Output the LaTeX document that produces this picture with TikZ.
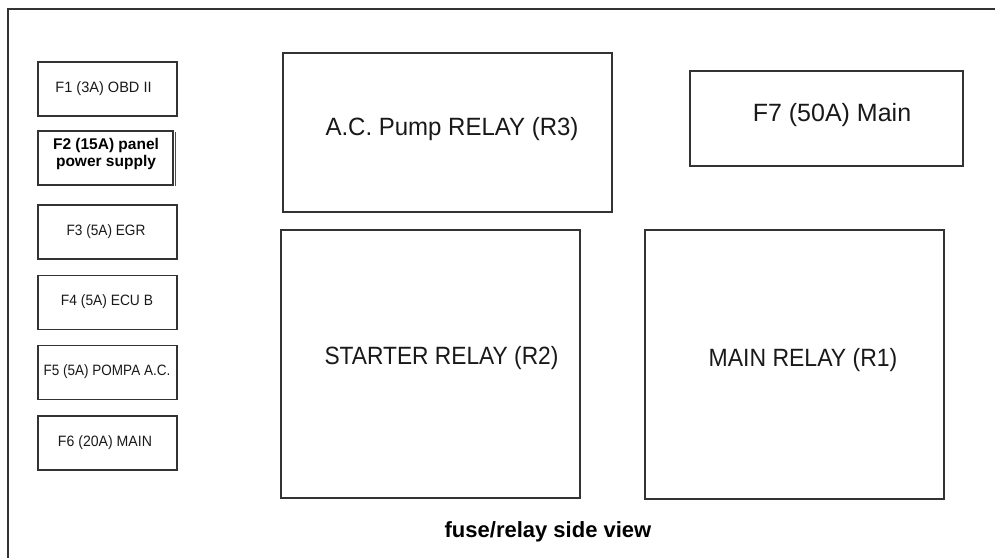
\documentclass[tikz,border=0pt]{standalone}
\usepackage{graphicx}
\usepackage{fontspec}
\setmainfont{Liberation Sans}
\newfontfamily\cad{Liberation Sans}
\newcommand{\cadtext}[2]{\scalebox{#1}[1]{#2}}
\begin{document}
\begin{tikzpicture}[x=1pt,y=-1pt,
  frame/.style={draw=black!80, line width=1.3pt},
  box/.style={draw=black!80, line width=1.3pt, inner sep=0pt, text=black!90},
  fuse/.style={box, minimum width=139pt, minimum height=54pt},
  fusetext/.style={text=black!90, inner sep=0pt, font=\cad\fontsize{15}{17}\selectfont},
  bigtext/.style={text=black!90, inner sep=0pt, font=\cad\fontsize{25}{28}\selectfont},
  boldtext/.style={text=black, inner sep=0pt, align=center, font=\bfseries\fontsize{15.5}{17.5}\selectfont}]
\useasboundingbox (0,0) rectangle (995,558);
\draw[frame] (995,9) -- (8,9) -- (8,558);

% fuses
\node[fuse] (f1) at (107.5,89) {};
\node[fusetext] (t1) at (103.5,88.5) {\cadtext{0.97}{F1 (3A) OBD II}};
\node[box, minimum width=135pt, minimum height=54pt] (f2) at (105.5,158) {};
\draw[black!70, line width=0.8pt] ([xshift=2pt,yshift=-2pt]f2.north east) -- ([xshift=2pt]f2.south east);
\node[boldtext] (t2) at (106,154) {F2 (15A) panel\\power supply};
\node[fuse] (f3) at (107.5,232) {};
\node[fusetext] (t3) at (106,231.5) {\cadtext{0.91}{F3 (5A) EGR}};
\node[fuse] (f4) at (107.5,302.5) {};
\node[fusetext] (t4) at (107,302) {\cadtext{0.92}{F4 (5A) ECU B}};
\node[fuse] (f5) at (107.5,372.5) {};
\node[fusetext] (t5) at (107,372) {\cadtext{0.90}{F5 (5A) POMPA A.C.}};
\node[fuse] (f6) at (107.5,443) {};
\node[fusetext] (t6) at (105,442.5) {\cadtext{0.94}{F6 (20A) MAIN}};

% relays
\node[box, minimum width=329pt, minimum height=159pt] (r3) at (447.5,132.5) {};
\node[bigtext] (tr3) at (452,129) {\cadtext{0.96}{A.C. Pump RELAY (R3)}};
\node[box, minimum width=273pt, minimum height=95pt] (f7) at (826.5,118.5) {};
\node[bigtext] (tf7) at (832,115) {\cadtext{1.0}{F7 (50A) Main}};
\node[box, minimum width=299pt, minimum height=268pt] (r2) at (430.5,364) {};
\node[bigtext] (tr2) at (441.5,358) {\cadtext{0.91}{STARTER RELAY (R2)}};
\node[box, minimum width=299pt, minimum height=269pt] (r1) at (794.5,364.5) {};
\node[bigtext] (tr1) at (803,360) {\cadtext{0.92}{MAIN RELAY (R1)}};

\node[text=black, inner sep=0pt, font=\bfseries\fontsize{22}{24}\selectfont] (cap) at (548,532) {fuse/relay side view};
\end{tikzpicture}
\end{document}
